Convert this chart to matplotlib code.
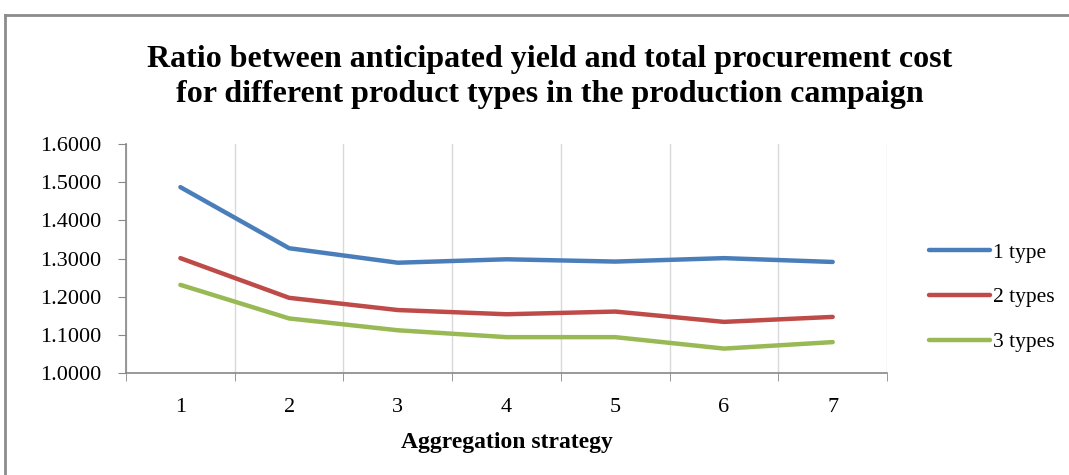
import numpy as np
import matplotlib.pyplot as plt

strategies = [1, 2, 3, 4, 5, 6, 7]
one_type = [1.487, 1.327, 1.289, 1.298, 1.292, 1.301, 1.291]
two_types = [1.301, 1.197, 1.165, 1.154, 1.161, 1.134, 1.147]
three_types = [1.231, 1.143, 1.112, 1.094, 1.094, 1.064, 1.081]

labels = ["1 type", "2 types", "3 types"]
colors = ["#4A7EBB", "#BE4B48", "#98B954"]

plt.rcParams['font.family'] = ['Liberation Serif', 'DejaVu Serif']

fig = plt.figure(figsize=(10.69, 4.75), dpi=100)
ax = fig.add_axes([0.1179, 0.2147, 0.7119, 0.4821])

# chart frame (top and left edges)
fig.add_artist(plt.Line2D([0.005, 0.005], [0.0, 0.968], color="#8c8c8c", lw=2))
fig.add_artist(plt.Line2D([0.005, 1.0], [0.968, 0.968], color="#8c8c8c", lw=2))

for vals, lab, c in zip([one_type, two_types, three_types], labels, colors):
    ax.plot(strategies, vals, color=c, lw=3.2, label=lab, solid_capstyle="round")

ax.set_xlim(0.5, 7.5)
ax.set_ylim(1.0, 1.6)
ax.set_yticks(np.arange(1.0, 1.61, 0.1))
ax.set_yticklabels(["%.4f" % v for v in np.arange(1.0, 1.61, 0.1)], fontsize=16)
ax.set_xticks(strategies)
ax.set_xticklabels([str(s) for s in strategies], fontsize=16)
ax.set_xticks(np.arange(0.5, 7.6, 1.0), minor=True)
ax.tick_params(axis="x", which="major", length=0, pad=18)
ax.tick_params(axis="x", which="minor", length=6, color="#888888")
ax.tick_params(axis="y", length=6, color="#888888", pad=12)
ax.grid(axis="x", which="minor", color="#d9d9d9", lw=1)
for s in ["top", "right"]:
    ax.spines[s].set_visible(False)
for s in ["left", "bottom"]:
    ax.spines[s].set_color("#888888")
    ax.spines[s].set_linewidth(1.2)

ax.set_xlabel("Aggregation strategy", fontsize=17, fontweight="bold", labelpad=11)
fig.text(0.514, 0.838, "Ratio between anticipated yield and total procurement cost\nfor different product types in the production campaign",
         ha="center", va="center", fontsize=23, fontweight="bold", linespacing=1.3)

ax.legend(loc="center left", bbox_to_anchor=(1.03, 0.33), frameon=False, fontsize=15.5,
          handlelength=2.8, handletextpad=0.15, labelspacing=1.15)

fig.savefig("out.png", dpi=100)
